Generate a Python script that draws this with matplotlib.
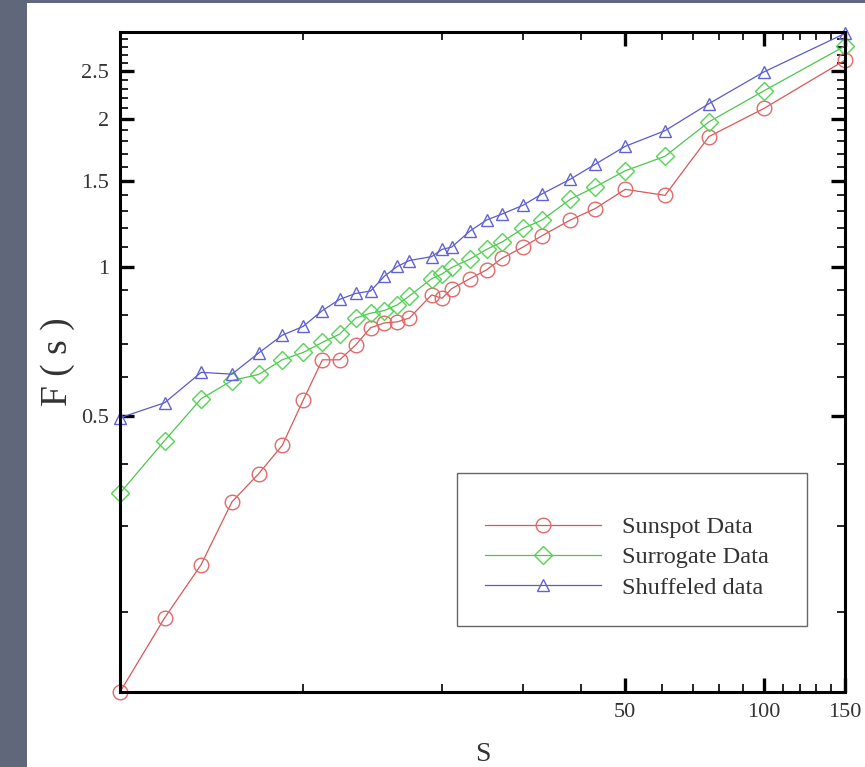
import numpy as np
import matplotlib.pyplot as plt
from matplotlib.patches import Rectangle
from matplotlib.ticker import FixedLocator, FixedFormatter, NullFormatter

# scales s
s = [4, 5, 6, 7, 8, 9, 10, 11, 12, 13, 14, 15, 16, 17, 19, 20, 21, 23, 25, 27,
     30, 33, 38, 43, 50, 61, 76, 100, 150]

sunspot = [0.138, 0.195, 0.25, 0.335, 0.382, 0.436, 0.539, 0.65, 0.65, 0.697,
           0.755, 0.772, 0.776, 0.79, 0.88, 0.866, 0.906, 0.949, 0.989, 1.044,
           1.10, 1.16, 1.248, 1.316, 1.44, 1.40, 1.842, 2.10, 2.63]
surrogate = [0.349, 0.446, 0.542, 0.59, 0.607, 0.65, 0.673, 0.705, 0.733, 0.79,
             0.808, 0.818, 0.84, 0.876, 0.949, 0.97, 1.0, 1.04, 1.088, 1.126,
             1.20, 1.248, 1.375, 1.456, 1.57, 1.68, 1.973, 2.28, 2.81]
shuffled = [0.496, 0.532, 0.613, 0.608, 0.671, 0.729, 0.76, 0.818, 0.862, 0.886,
            0.896, 0.96, 1.005, 1.033, 1.052, 1.088, 1.10, 1.185, 1.248, 1.283,
            1.337, 1.41, 1.51, 1.618, 1.76, 1.893, 2.148, 2.49, 2.98]

y_major = [0.5, 1, 1.5, 2, 2.5]
y_major_labels = ["0.5", "1", "1.5", "2", "2.5"]
x_major = [50, 100, 150]
x_major_labels = ["50", "100", "150"]

plt.rcParams['font.family'] = ['Liberation Serif', 'DejaVu Serif']

W, H = 865, 767
fig = plt.figure(figsize=(W / 100, H / 100), dpi=100, facecolor='#60677a')
fig.patches.append(Rectangle((27 / W, 0), 1 - 27 / W, (H - 3) / H,
                             transform=fig.transFigure, facecolor='white',
                             edgecolor='none', zorder=-10))

ax = fig.add_axes([120 / W, 1 - 692 / H, 725 / W, 660 / H])
ax.set_xscale('log')
ax.set_yscale('log')

ax.plot(s, sunspot, color='#d85858', lw=0.9, marker='o', ms=10.5,
        mfc='none', mec='#e26a6a', mew=1.0, clip_on=False, label='Sunspot Data')
ax.plot(s, surrogate, color='#4cc64c', lw=0.9, marker='D', ms=9.5,
        mfc='none', mec='#55d455', mew=1.0, clip_on=False, label='Surrogate Data')
ax.plot(s, shuffled, color='#5a5acc', lw=0.9, marker='^', ms=8,
        mfc='none', mec='#6262d8', mew=1.0, clip_on=False, label='Shuffeled data')

ax.set_xlim(4, 150)
ax.set_ylim(0.138, 3.0)

ax.xaxis.set_major_locator(FixedLocator(x_major))
ax.xaxis.set_major_formatter(FixedFormatter(x_major_labels))
ax.xaxis.set_minor_locator(FixedLocator([10, 20, 30, 40, 60, 70, 80, 90,
                                         110, 120, 130, 140]))
ax.xaxis.set_minor_formatter(NullFormatter())

y_minor = [0.2, 0.3, 0.4, 0.6, 0.7, 0.8, 0.9, 1.1, 1.2, 1.3, 1.4, 1.6, 1.7,
           1.8, 1.9, 2.1, 2.2, 2.3, 2.4, 2.6, 2.7, 2.8, 2.9]
ax.yaxis.set_major_locator(FixedLocator(y_major))
ax.yaxis.set_major_formatter(FixedFormatter(y_major_labels))
ax.yaxis.set_minor_locator(FixedLocator(y_minor))
ax.yaxis.set_minor_formatter(NullFormatter())

for sp in ax.spines.values():
    sp.set_linewidth(2.2)
ax.tick_params(which='both', direction='in', top=True, right=True,
               labelsize=16, labelcolor='#333333')
ax.tick_params(which='major', length=10, width=2.4, pad=8)
ax.tick_params(which='minor', length=5.5, width=1.2)

ax.set_xlabel('S', fontsize=20, color='#333333', labelpad=14)
ax.set_ylabel('F ( s )', fontsize=27, color='#333333', labelpad=4)

# legend box drawn separately to match the uneven padding
ax.add_patch(Rectangle((0.465, 0.100), 0.483, 0.232, transform=ax.transAxes,
                       facecolor='white', edgecolor='#666666', lw=1.0,
                       zorder=5))
leg = ax.legend(loc='upper left', bbox_to_anchor=(0.503, 0.266), frameon=False,
                fontsize=17.5, handlelength=4.8, handletextpad=0.86,
                labelspacing=0.33, borderpad=0, borderaxespad=0)
leg.set_zorder(6)
for t in leg.get_texts():
    t.set_color('#333333')

fig.savefig('out.png', dpi=100, facecolor=fig.get_facecolor())
